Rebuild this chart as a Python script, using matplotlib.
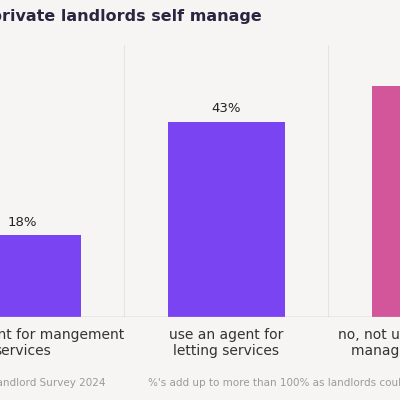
import matplotlib.pyplot as plt

categories = ["use an agent for mangement\nservices", "use an agent for\nletting services", "no, not use an agent, I self\nmanage my properties"]
values = [18, 43, 51]
colors = ["#7b44f2", "#7b44f2", "#d4569a"]

bg = "#f7f5f4"
fig = plt.figure(figsize=(4, 4), dpi=100, facecolor=bg)
ax = fig.add_axes([-0.199, 0.2075, 1.53, 0.68], facecolor=bg)

x = range(len(values))
ax.bar(x, values, width=0.573, color=colors, zorder=3)
for i, v in zip(x, values):
    ax.text(i, v + 1.5, f"{v}%", ha="center", va="bottom", fontsize=9.5, color="#222222")

ax.set_xlim(-0.5, 2.5)
ax.set_ylim(0, 60)
for xv in [0.5, 1.5]:
    ax.axvline(xv, color="#e6e3e2", lw=0.8, zorder=1)
ax.axhline(0, color="#bbbbbb", lw=1, zorder=4)
ax.set_xticks(list(x))
ax.set_xticklabels(categories, fontsize=10, color="#333333", linespacing=1.2)
ax.tick_params(axis="x", length=0, pad=8)
ax.set_yticks([])
for s in ax.spines.values():
    s.set_visible(False)

fig.text(262 / 400, 1 - 17 / 400, "What % of private landlords self manage", ha="right", va="center",
         fontsize=11.5, fontweight="bold", color="#2a2540")
fig.text(105 / 400, 1 - 383 / 400, "Source: Landlord Survey 2024", ha="right", va="center",
         fontsize=7.5, color="#9a9a9a")
fig.text(148 / 400, 1 - 383 / 400, "%'s add up to more than 100% as landlords could select multiple options",
         ha="left", va="center", fontsize=7.5, color="#9a9a9a")

fig.savefig("out.png", dpi=100, facecolor=bg)
